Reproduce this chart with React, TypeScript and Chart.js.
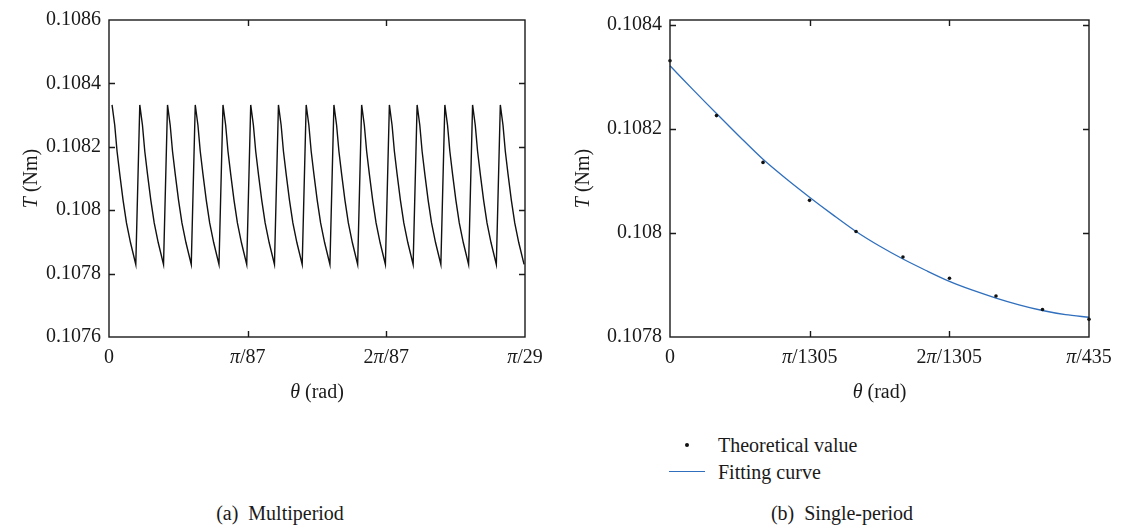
import React, { useEffect, useRef } from 'react';
import { Chart, registerables } from 'chart.js';

Chart.register(...registerables);

const PI = Math.PI;
const FONT = '"Liberation Serif", "DejaVu Serif", serif';
const INK = '#1a1a1a';
const BLUE = '#2f6fbd';
const FS = 20;

// ---- (a) Multiperiod: one torque period, repeated for 15 periods ----
const period = PI / 435;
const periodCount = 15;
const periodFractions = [0.11, 0.207, 0.29, 0.388, 0.507, 0.63, 0.774, 0.966];
const periodTorque = [0.108332, 0.108268, 0.108186, 0.108114, 0.108032, 0.10796, 0.107898, 0.107829];

const leftYTicks = [0.1076, 0.1078, 0.108, 0.1082, 0.1084, 0.1086];
const leftYLabels = ['0.1076', '0.1078', '0.108', '0.1082', '0.1084', '0.1086'];
const leftXTicks = [0, PI / 87, (2 * PI) / 87, PI / 29];
const leftXLabels = ['0', 'π/87', '2π/87', 'π/29'];

// ---- (b) Single-period ----
const theoryFractions = [0, 0.111, 0.222, 0.333, 0.444, 0.556, 0.667, 0.778, 0.889, 1];
const theoryTorque = [0.1083315, 0.108226, 0.108136, 0.108063, 0.108003, 0.107954, 0.107913, 0.107879, 0.107853, 0.107834];

const fitFractions = [0, 0.056, 0.111, 0.167, 0.222, 0.278, 0.333, 0.389, 0.444, 0.5, 0.556, 0.611, 0.667, 0.722, 0.778, 0.833, 0.889, 0.944, 1];
const fitTorque = [0.108322, 0.108275, 0.10823, 0.108185, 0.108142, 0.108104, 0.108069, 0.108035, 0.108003, 0.107975, 0.10795, 0.107928, 0.107907, 0.10789, 0.107875, 0.107862, 0.107851, 0.107843, 0.107838];

const rightYTicks = [0.1078, 0.108, 0.1082, 0.1084];
const rightYLabels = ['0.1078', '0.108', '0.1082', '0.1084'];
const rightXTicks = [0, PI / 1305, (2 * PI) / 1305, PI / 435];
const rightXLabels = ['0', 'π/1305', '2π/1305', 'π/435'];

type Part = [string, boolean];

function splitItalic(label: string): Part[] {
  const parts: Part[] = [];
  for (const ch of label) {
    const it = ch === 'π' || ch === 'θ';
    const last = parts[parts.length - 1];
    if (last && last[1] === it) last[0] += ch;
    else parts.push([ch, it]);
  }
  return parts;
}

function drawRich(ctx: CanvasRenderingContext2D, parts: Part[], x: number, y: number, size: number) {
  const fonts = parts.map(([, it]) => `${it ? 'italic ' : ''}${size}px ${FONT}`);
  let total = 0;
  const widths = parts.map(([t], i) => {
    ctx.font = fonts[i];
    const w = ctx.measureText(t).width;
    total += w;
    return w;
  });
  let cx = x - total / 2;
  ctx.textAlign = 'left';
  ctx.textBaseline = 'middle';
  ctx.fillStyle = INK;
  parts.forEach(([t], i) => {
    ctx.font = fonts[i];
    ctx.fillText(t, cx, y);
    cx += widths[i];
  });
}

const framePlugin = {
  id: 'frame',
  afterDatasetsDraw(chart: any, _args: any, opts: any) {
    const ctx: CanvasRenderingContext2D = chart.ctx;
    const { left, right, top, bottom } = chart.chartArea;
    const xs = chart.scales.x;
    const ys = chart.scales.y;
    const tl = 6;
    ctx.save();
    ctx.strokeStyle = INK;
    ctx.lineWidth = 1.4;
    ctx.beginPath();
    for (const t of xs.ticks) {
      const px = Math.round(xs.getPixelForValue(t.value)) + 0.5;
      if (px - left < 2 || right - px < 2) continue;
      ctx.moveTo(px, bottom);
      ctx.lineTo(px, bottom - tl);
      ctx.moveTo(px, top);
      ctx.lineTo(px, top + tl);
    }
    for (const t of ys.ticks) {
      const py = Math.round(ys.getPixelForValue(t.value)) + 0.5;
      if (py - top < 2 || bottom - py < 2) continue;
      ctx.moveTo(left, py);
      ctx.lineTo(left + tl, py);
      ctx.moveTo(right, py);
      ctx.lineTo(right - tl, py);
    }
    ctx.stroke();
    ctx.strokeRect(left, top, right - left, bottom - top);

    // x tick labels with italic pi
    const labels: string[] = opts.xLabels;
    const values: number[] = opts.xTicks;
    values.forEach((v, i) => {
      drawRich(ctx, splitItalic(labels[i]), xs.getPixelForValue(v), bottom + 21, FS);
    });

    // axis titles
    drawRich(ctx, [['θ', true], [' (rad)', false]], (left + right) / 2, bottom + 56, FS);
    ctx.save();
    ctx.translate(opts.yTitleX, (top + bottom) / 2);
    ctx.rotate(-PI / 2);
    drawRich(ctx, [['T', true], [' (Nm)', false]], 0, 0, FS);
    ctx.restore();
    ctx.restore();
  },
};

function makeOptions(cfg: {
  xMax: number;
  yMin: number;
  yMax: number;
  xTicks: number[];
  xLabels: string[];
  yTicks: number[];
  yLabels: string[];
  yWidth: number;
  yTitleX: number;
}) {
  return {
    responsive: false,
    animation: false,
    events: [],
    layout: { padding: { left: 0, top: 12, right: 35, bottom: 0 } },
    plugins: {
      legend: { display: false },
      tooltip: { enabled: false },
      frame: { xLabels: cfg.xLabels, xTicks: cfg.xTicks, yTitleX: cfg.yTitleX },
    },
    scales: {
      x: {
        type: 'linear',
        min: 0,
        max: cfg.xMax,
        afterBuildTicks: (s: any) => {
          s.ticks = cfg.xTicks.map((v) => ({ value: v }));
        },
        afterFit: (s: any) => {
          s.height = 83;
        },
        ticks: { display: false },
        grid: { display: false, drawTicks: false },
        border: { display: false },
      },
      y: {
        type: 'linear',
        min: cfg.yMin,
        max: cfg.yMax,
        afterBuildTicks: (s: any) => {
          s.ticks = cfg.yTicks.map((v) => ({ value: v }));
        },
        afterFit: (s: any) => {
          s.width = cfg.yWidth;
        },
        ticks: {
          callback: (_v: any, i: number) => cfg.yLabels[i],
          font: { family: FONT, size: FS },
          color: INK,
          padding: 8,
        },
        grid: { display: false, drawTicks: false },
        border: { display: false },
      },
    },
  };
}

function LeftChart() {
  const ref = useRef<HTMLCanvasElement | null>(null);
  useEffect(() => {
    if (!ref.current) return;
    const pts: { x: number; y: number }[] = [];
    for (let k = 0; k < periodCount; k++) {
      periodFractions.forEach((f, i) => pts.push({ x: (k + f) * period, y: periodTorque[i] }));
    }
    const chart = new Chart(ref.current, {
      type: 'scatter',
      data: {
        datasets: [
          {
            data: pts,
            showLine: true,
            borderColor: '#111111',
            borderWidth: 1.4,
            pointRadius: 0,
            tension: 0,
            clip: false,
          },
        ],
      },
      options: makeOptions({
        xMax: PI / 29,
        yMin: 0.1076,
        yMax: 0.1086,
        xTicks: leftXTicks,
        xLabels: leftXLabels,
        yTicks: leftYTicks,
        yLabels: leftYLabels,
        yWidth: 109,
        yTitleX: 32,
      }) as any,
      plugins: [framePlugin],
    });
    return () => chart.destroy();
  }, []);
  return (
    <canvas
      ref={ref}
      width={560}
      height={420}
      style={{ position: 'absolute', left: 0, top: 0, width: 560, height: 420 }}
    />
  );
}

function RightChart() {
  const ref = useRef<HTMLCanvasElement | null>(null);
  useEffect(() => {
    if (!ref.current) return;
    const theory = theoryFractions.map((f, i) => ({ x: f * period, y: theoryTorque[i] }));
    const fit = fitFractions.map((f, i) => ({ x: f * period, y: fitTorque[i] }));
    const chart = new Chart(ref.current, {
      type: 'scatter',
      data: {
        datasets: [
          {
            label: 'Theoretical value',
            data: theory,
            showLine: false,
            pointRadius: 1.8,
            pointBackgroundColor: '#111111',
            pointBorderWidth: 0,
            clip: false,
          },
          {
            label: 'Fitting curve',
            data: fit,
            showLine: true,
            borderColor: BLUE,
            borderWidth: 1.3,
            pointRadius: 0,
            tension: 0.3,
            clip: false,
          },
        ],
      },
      options: makeOptions({
        xMax: PI / 435,
        yMin: 0.1078,
        yMax: 0.10841,
        xTicks: rightXTicks,
        xLabels: rightXLabels,
        yTicks: rightYTicks,
        yLabels: rightYLabels,
        yWidth: 110,
        yTitleX: 24,
      }) as any,
      plugins: [framePlugin],
    });
    return () => chart.destroy();
  }, []);
  return (
    <canvas
      ref={ref}
      width={564}
      height={420}
      style={{ position: 'absolute', left: 560, top: 0, width: 564, height: 420 }}
    />
  );
}

const textStyle: React.CSSProperties = {
  position: 'absolute',
  fontFamily: FONT,
  fontSize: FS,
  lineHeight: '22px',
  color: INK,
  whiteSpace: 'nowrap',
};

export default function App() {
  return (
    <div
      style={{
        position: 'absolute',
        left: 0,
        top: 0,
        width: 1124,
        height: 531,
        background: '#ffffff',
        overflow: 'hidden',
      }}
    >
      <LeftChart />
      <RightChart />
      {/* legend of (b) */}
      <div
        style={{
          position: 'absolute',
          left: 685,
          top: 443,
          width: 4,
          height: 4,
          borderRadius: 2,
          background: '#111111',
        }}
      />
      <div style={{ ...textStyle, left: 718, top: 434 }}>Theoretical value</div>
      <div
        style={{ position: 'absolute', left: 669, top: 471, width: 36, height: 1.3, background: BLUE }}
      />
      <div style={{ ...textStyle, left: 718, top: 461 }}>Fitting curve</div>
      {/* captions */}
      <div style={{ ...textStyle, left: 0, width: 560, textAlign: 'center', top: 502 }}>
        (a)&nbsp;&nbsp;Multiperiod
      </div>
      <div style={{ ...textStyle, left: 560, width: 564, textAlign: 'center', top: 502 }}>
        (b)&nbsp;&nbsp;Single-period
      </div>
    </div>
  );
}
